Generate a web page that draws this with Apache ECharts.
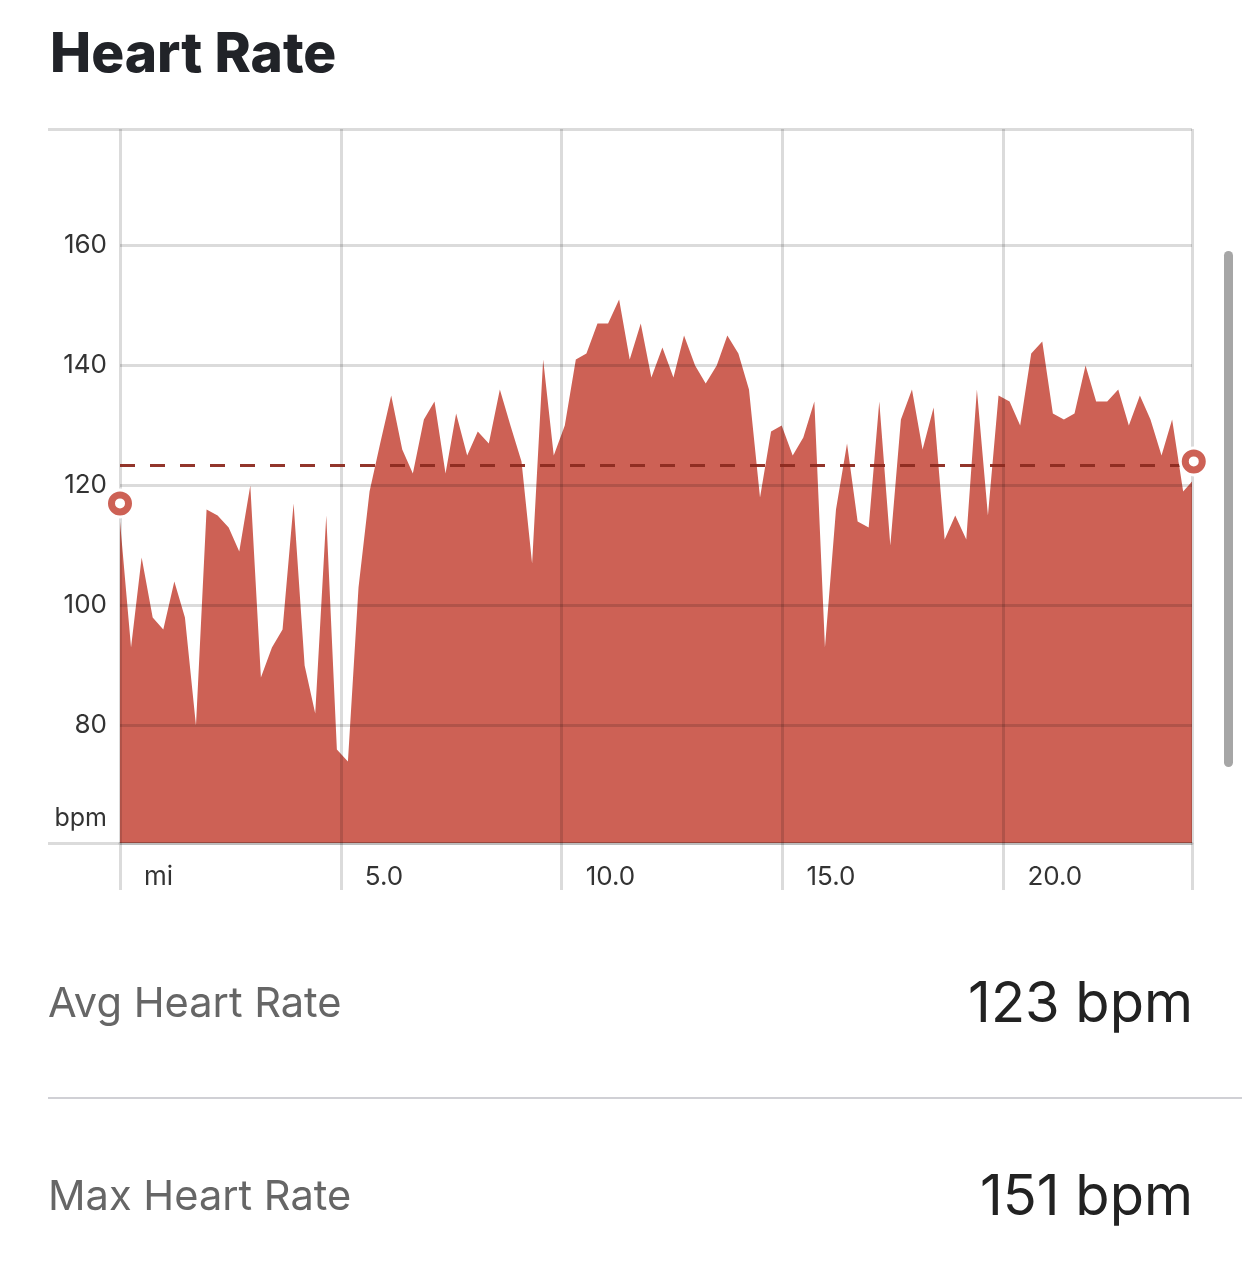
<!DOCTYPE html>
<html>
<head>
<meta charset="utf-8">
<title>Heart Rate</title>
<style>
html,body{margin:0;padding:0;background:#fff;overflow:hidden}
#chart{width:1242px;height:1268px}
</style>
<script src="https://cdn.jsdelivr.net/npm/echarts@6/dist/echarts.min.js"></script>
</head>
<body>
<div id="chart"></div>
<script>
var distance = [
    0,0.25,0.49,0.74,0.98,1.23,1.47,1.72,1.96,2.21,
    2.46,2.7,2.95,3.19,3.44,3.68,3.93,4.18,4.42,4.67,
    4.91,5.16,5.4,5.65,5.89,6.14,6.39,6.63,6.88,7.12,
    7.37,7.61,7.86,8.1,8.35,8.6,8.84,9.09,9.33,9.58,
    9.82,10.07,10.32,10.56,10.81,11.05,11.3,11.54,11.79,12.03,
    12.28,12.53,12.77,13.02,13.26,13.51,13.75,14,14.24,14.49,
    14.74,14.98,15.23,15.47,15.72,15.96,16.21,16.46,16.7,16.95,
    17.19,17.44,17.68,17.93,18.17,18.42,18.67,18.91,19.16,19.4,
    19.65,19.89,20.14,20.38,20.63,20.88,21.12,21.37,21.61,21.86,
    22.1,22.35,22.6,22.84,23.09,23.33,23.58,23.82,24.07,24.31
];
var heartRate = [
    114,93,108,98,96,104,98,80,116,115,
    113,109,120,88,93,96,117,90,82,115,
    76,74,103,119,127,135,126,122,131,134,
    122,132,125,129,127,136,130,124,107,141,
    125,130,141,142,147,147,151,141,147,138,
    143,138,145,140,137,140,145,142,136,118,
    129,130,125,128,134,93,116,127,114,113,
    134,110,131,136,126,133,111,115,111,136,
    115,135,134,130,142,144,132,131,132,140,
    134,134,136,130,135,131,125,131,119,121
];
var yTicks = [80,100,120,140,160];
var avgHeartRate = 123.4;
var endMarkers = [[0,117],[24.31,124]];
var statLabels = ['Avg Heart Rate','Max Heart Rate'];
var statValues = ['123 bpm','151 bpm'];

var FONT = 'Inter';
var GRID_COLOR = 'rgba(0,0,0,0.14)';
var RED = '#cd6155';
var Y_MIN = 60.4;
var Y_MAX = 179.4;

var points = [];
for (var i = 0; i < distance.length; i++) {
    points.push([distance[i], heartRate[i]]);
}

var chart = echarts.init(document.getElementById('chart'));

chart.setOption({
    animation: false,
    backgroundColor: '#fff',
    textStyle: {fontFamily: FONT},
    title: {
        text: 'Heart Rate',
        left: 45,
        top: 23,
        textStyle: {fontFamily: FONT, fontWeight: 800, fontSize: 55, color: '#212328'}
    },
    grid: {left: 120, top: 129, width: 1072, height: 714},
    xAxis: {
        type: 'value',
        min: 0,
        max: 24.27,
        interval: 5,
        z: 5,
        axisLine: {show: true, onZero: false, lineStyle: {color: GRID_COLOR, width: 3}},
        axisTick: {show: true, length: 47, lineStyle: {color: GRID_COLOR, width: 3}},
        splitLine: {show: true, lineStyle: {color: GRID_COLOR, width: 3}},
        axisLabel: {
            align: 'left',
            margin: 21,
            padding: [0, 0, 0, 24],
            fontFamily: FONT,
            fontSize: 26,
            color: '#333',
            formatter: function (v) {
                if (v === 0) return 'mi';
                if (v % 5 !== 0) return '';
                return v.toFixed(1);
            }
        }
    },
    yAxis: [
        {
            type: 'value',
            min: Y_MIN,
            max: Y_MAX,
            z: 5,
            name: 'bpm',
            nameLocation: 'start',
            nameGap: -37,
            nameTextStyle: {fontFamily: FONT, fontSize: 25, color: '#333', align: 'right', padding: [0, 13, 0, 0]},
            axisLine: {show: false},
            axisTick: {show: false, customValues: yTicks},
            splitLine: {show: true, lineStyle: {color: GRID_COLOR, width: 3}},
            axisLabel: {
                customValues: yTicks,
                margin: 13,
                padding: [2, 0, 0, 0],
                fontFamily: FONT,
                fontSize: 26,
                color: '#333'
            }
        },
        {
            // top and bottom rules, these run out to the left of the plot
            type: 'value',
            min: Y_MIN,
            max: Y_MAX,
            position: 'left',
            z: 5,
            axisLine: {show: false},
            axisLabel: {show: false},
            splitLine: {show: true, lineStyle: {color: GRID_COLOR, width: 3}},
            axisTick: {show: true, length: 72, customValues: [Y_MIN, Y_MAX], lineStyle: {color: GRID_COLOR, width: 3}}
        }
    ],
    series: [
        {
            type: 'line',
            data: points,
            showSymbol: false,
            silent: true,
            clip: false,
            z: 2,
            lineStyle: {width: 0},
            areaStyle: {color: RED, opacity: 1},
            markLine: {
                silent: true,
                symbol: 'none',
                label: {show: false},
                z: 6,
                lineStyle: {color: '#8c2a20', type: [15, 15], width: 3, opacity: 0.95},
                data: [{yAxis: avgHeartRate}]
            }
        },
        {
            // white halo behind the end markers
            type: 'scatter',
            data: endMarkers,
            clip: false,
            silent: true,
            z: 7,
            symbolSize: 30,
            itemStyle: {color: '#fff', opacity: 1}
        },
        {
            type: 'scatter',
            data: endMarkers,
            clip: false,
            silent: true,
            z: 8,
            symbolSize: 17,
            itemStyle: {color: '#fff', borderColor: RED, borderWidth: 7, opacity: 1}
        }
    ],
    graphic: [
        {type: 'rect', left: 1224, top: 251, shape: {width: 9, height: 516, r: 4.5}, style: {fill: '#a6a6a6'}},
        {type: 'rect', left: 48, top: 1097, shape: {width: 1194, height: 2}, style: {fill: '#d0d0d5'}},
        {type: 'text', x: 48, y: 1004, style: {text: statLabels[0], fontFamily: FONT, fontSize: 41.6, fill: '#666', textAlign: 'left', textVerticalAlign: 'middle'}},
        {type: 'text', x: 1193, y: 1005, style: {text: statValues[0], fontFamily: FONT, fontSize: 56, fill: '#222', textAlign: 'right', textVerticalAlign: 'middle'}},
        {type: 'text', x: 48, y: 1197, style: {text: statLabels[1], fontFamily: FONT, fontSize: 41.6, fill: '#666', textAlign: 'left', textVerticalAlign: 'middle'}},
        {type: 'text', x: 1193, y: 1198, style: {text: statValues[1], fontFamily: FONT, fontSize: 56, fill: '#222', textAlign: 'right', textVerticalAlign: 'middle'}}
    ]
});
</script>
</body>
</html>
